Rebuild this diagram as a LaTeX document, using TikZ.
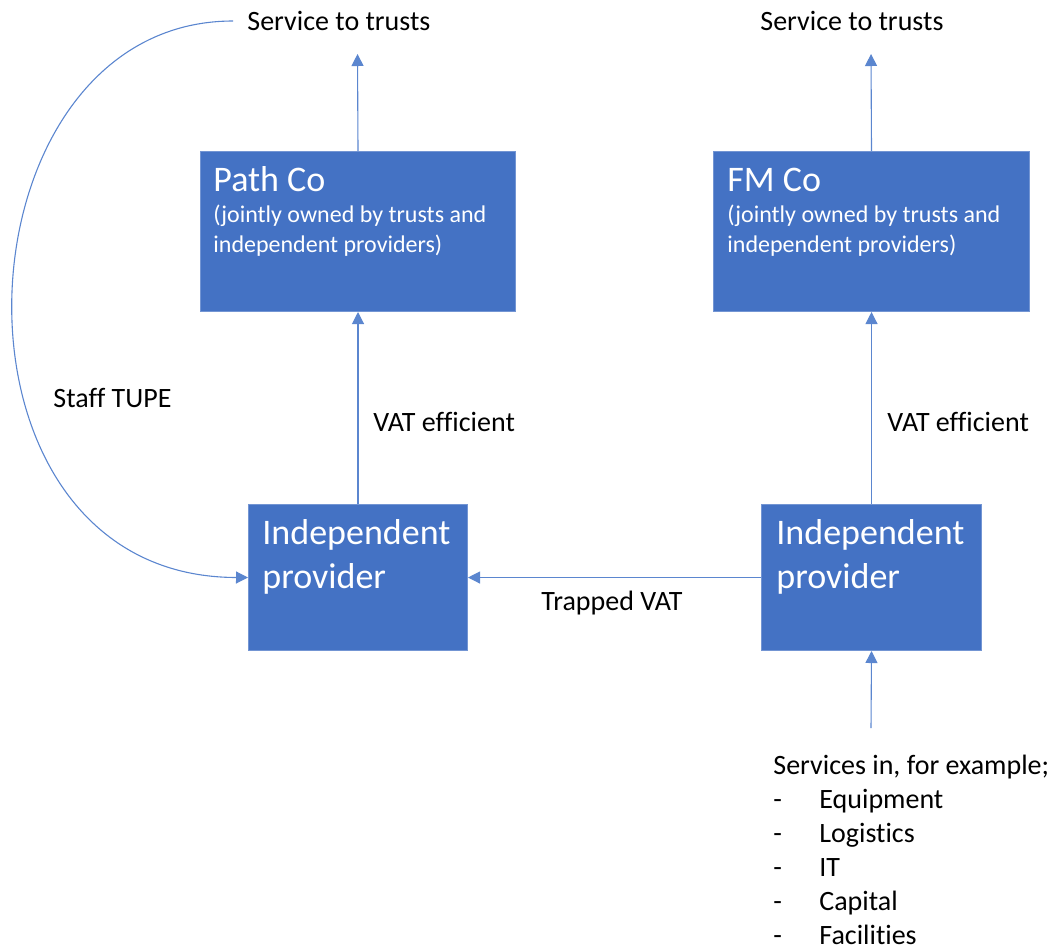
\documentclass[tikz,border=0pt]{standalone}
\usepackage{fontspec}
\setmainfont{Carlito}[Ligatures=NoCommon]
\usetikzlibrary{arrows.meta}
\definecolor{officeblue}{HTML}{4472C4}
\definecolor{linkblue}{HTML}{5B86CF}
\begin{document}
\begin{tikzpicture}[x=0.5pt,y=-0.5pt,
  box/.style={draw=officeblue!75!white,line width=0.5pt,fill=officeblue,
    rectangle,inner sep=0,anchor=north west},
  conn/.style={draw=linkblue,line width=0.55pt,
    -{Triangle[length=6pt,width=6pt]},color=linkblue},
  lbl/.style={inner sep=0,anchor=base west,font=\fontsize{14}{17}\selectfont},
  title/.style={inner sep=0,anchor=base west,text=white,font=\fontsize{18}{22}\selectfont},
  sub/.style={inner sep=0,anchor=base west,text=white,font=\fontsize{12}{14.5}\selectfont}]
\useasboundingbox (0,0) rectangle (1058,949);

% boxes
\node[box,minimum width=157.5pt,minimum height=80pt] (pathco) at (200,151) {};
\node[box,minimum width=158pt,minimum height=80pt] (fmco) at (713,151) {};
\node[box,minimum width=109.5pt,minimum height=73pt] (ipL) at (248,504) {};
\node[box,minimum width=110pt,minimum height=73pt] (ipR) at (761,504) {};

% box texts
\node[title] (pathcoT) at (213,191) {Path Co};
\node[sub] (pathcoA) at (213,222) {(jointly owned by trusts and};
\node[sub] (pathcoB) at (213,252) {independent providers)};
\node[title] (fmcoT) at (727,191) {FM Co};
\node[sub] (fmcoA) at (727,222) {(jointly owned by trusts and};
\node[sub] (fmcoB) at (727,252) {independent providers)};
\node[title] (ipLA) at (262,544) {Independent};
\node[title] (ipLB) at (262,588) {provider};
\node[title] (ipRA) at (776,544) {Independent};
\node[title] (ipRB) at (776,588) {provider};

% free labels
\node[lbl] (svcL) at (247,30) {Service to trusts};
\node[lbl] (svcR) at (760,30) {Service to trusts};
\node[lbl] (vatL) at (373,431) {VAT efficient};
\node[lbl] (vatR) at (887,431) {VAT efficient};
\node[lbl] (tupe) at (53,407) {Staff TUPE};
\node[lbl] (trap) at (541,610) {Trapped VAT};

% list of incoming services
\node[lbl] (svin) at (773,774) {Services in, for example;};
\node[lbl] (it1) at (773,808) {\makebox[23pt][l]{-}Equipment};
\node[lbl] (it2) at (773,842) {\makebox[23pt][l]{-}Logistics};
\node[lbl] (it3) at (773,876) {\makebox[23pt][l]{-}IT};
\node[lbl] (it4) at (773,910) {\makebox[23pt][l]{-}Capital};
\node[lbl] (it5) at (773,944) {\makebox[23pt][l]{-}Facilities};

% connector ends
\coordinate (tipL) at (357.5,54);
\coordinate (tipR) at (871,54);
\coordinate (tupeStart) at (233,21);
\coordinate (inStart) at (871,728);

% connectors
\draw[conn] (pathco.north) -- (tipL);
\draw[conn] (fmco.north) -- (tipR);
\draw[conn] (ipL.north) -- (pathco.south);
\draw[conn] (ipR.north) -- (fmco.south);
\draw[conn] (ipR.west) -- (ipL.east);
\draw[conn] (inStart) -- (ipR.south);
\draw[conn] (tupeStart) .. controls (-50,21) and (-75,577) .. (ipL.west);
\end{tikzpicture}
\end{document}
